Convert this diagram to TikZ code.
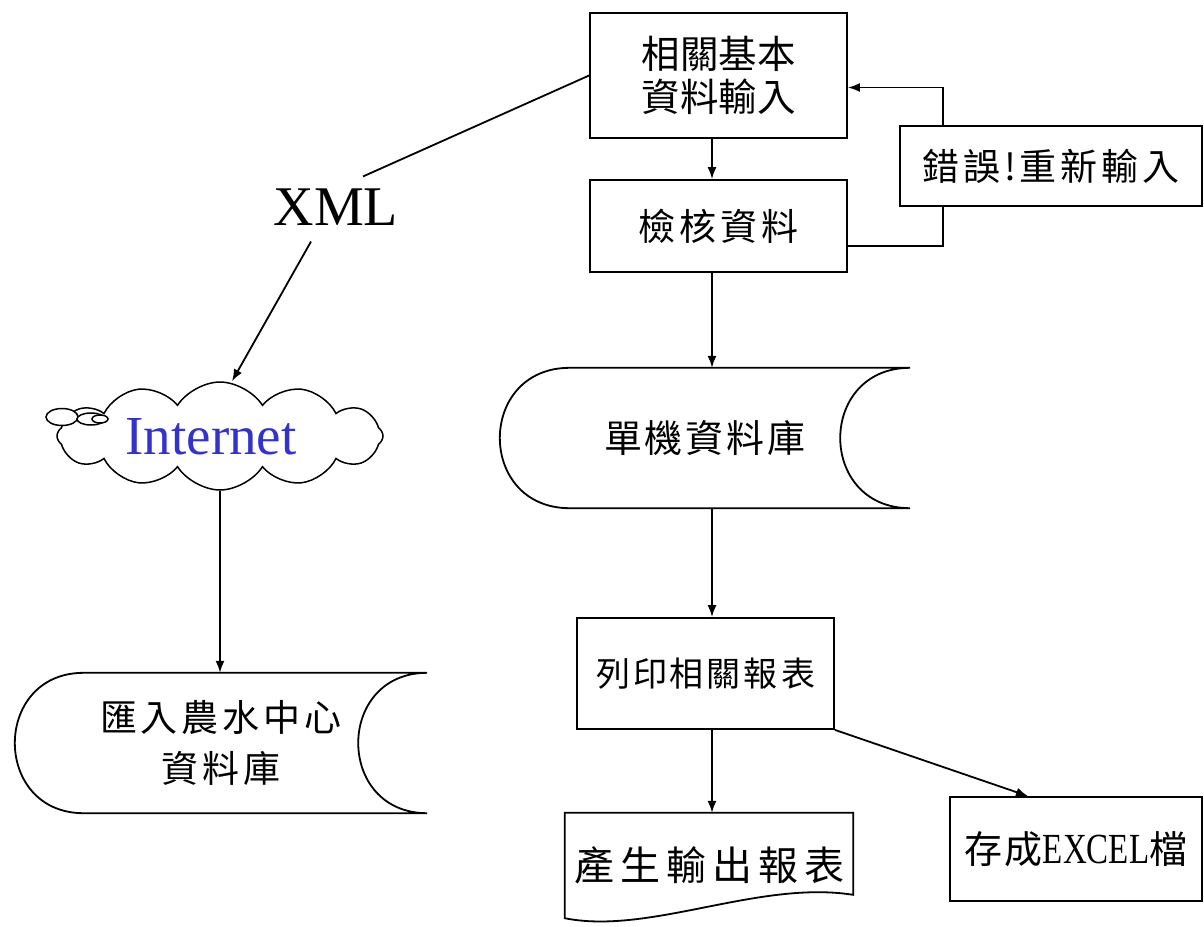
\documentclass[tikz,border=0pt]{standalone}
\usepackage{fontspec}
\usepackage{graphicx}
\setmainfont{Liberation Serif}
\newfontfamily\cjk{Noto Sans CJK TC}
\usetikzlibrary{arrows.meta,shapes.symbols,calc}
\definecolor{netblue}{RGB}{51,51,204}

% set a run of characters with a fixed gap between them
\makeatletter
\newcommand\spreadtext[2]{\def\spr@gap{#1}\spr@first#2\@nil}
\def\spr@first#1{#1\spr@next}
\def\spr@next#1{\ifx\@nil#1\else\hspace{\spr@gap}#1\expandafter\spr@next\fi}
\makeatother

% outline of a "stored data" symbol around a rectangular node
\newcommand\drawstored[2]{%
  \draw[plain] ($(#1.north west)+(#2,0)$) -- (#1.north east)
    .. controls ($(#1.north east)+(-1.333*#2,0)$) and ($(#1.south east)+(-1.333*#2,0)$) .. (#1.south east)
    -- ($(#1.south west)+(#2,0)$)
    .. controls ($(#1.south west)+(-0.333*#2,0)$) and ($(#1.north west)+(-0.333*#2,0)$) .. ($(#1.north west)+(#2,0)$)
    -- cycle;}

\tikzset{
  plain/.style={line width=1.8pt},
  arr/.style={line width=1.8pt,-{Latex[length=12pt,width=9pt]}},
  box/.style={draw,line width=1.8pt,rectangle,align=center,inner sep=0pt},
  shapebox/.style={rectangle,inner sep=0pt,align=center},
  cjkfont/.style={font=\cjk\fontsize{#1}{#1}\selectfont},
}

\begin{document}
\begin{tikzpicture}[x=1pt,y=-1pt]
\useasboundingbox (0,0) rectangle (1204,926);

% main column
\node[box,minimum width=257pt,minimum height=125pt,font=\cjk\fontsize{38.5}{43}\selectfont]
  (A) at (718.5,75.5) {相關基本\\資料輸入};
\node[box,minimum width=257pt,minimum height=92pt,cjkfont=37]
  (B) at (718.5,226) {\spreadtext{4pt}{檢核資料}};
\node[box,minimum width=302pt,minimum height=80pt,cjkfont=37]
  (err) at (1051,166) {\spreadtext{4pt}{錯誤!重新輸入}};
\node[shapebox,minimum width=410pt,minimum height=140pt,cjkfont=38]
  (db1) at (705,438) {\spreadtext{3pt}{單機資料庫}};
\drawstored{db1}{70}
\node[box,minimum width=257pt,minimum height=111pt,cjkfont=34]
  (pr) at (705.5,673.5) {\spreadtext{3pt}{列印相關報表}};
\node[shapebox,minimum width=288pt,minimum height=105pt,cjkfont=40]
  (doc) at (709,865.5) {\spreadtext{6pt}{產生輸出報表}};
\draw[plain] (doc.north west) -- (doc.north east) -- ($(doc.north east)+(0,82)$)
  .. controls ($(doc.north east)+(-95,67)$) and ($(doc.south west)+(85,17)$) .. (doc.south west)
  -- cycle;
\node[box,minimum width=252pt,minimum height=104pt]
  (ex) at (1076,849) {{\cjk\fontsize{38}{40}\selectfont 存\hspace{2pt}成}{\fontsize{33}{40}\selectfont\scalebox{1}[1.3]{EXCEL}}{\cjk\fontsize{38}{40}\selectfont 檔}};

% left branch
\node[inner sep=0pt,font=\fontsize{56}{60}\selectfont] (xml) at (336,207) {XML};
\node[cloud,draw,line width=1.5pt,cloud puffs=12,cloud puff arc=115,aspect=3,
  minimum width=326pt,minimum height=108pt,inner sep=0pt] (net) at (220,436) {};
\draw[line width=1.5pt,fill=white] (62,417) ellipse [x radius=16,y radius=8.5];
\draw[line width=1.5pt,fill=white] (91,419) ellipse [x radius=14,y radius=6];
\draw[line width=1.5pt,fill=white] (100,419) ellipse [x radius=8,y radius=4];
\node[inner sep=0pt,text=netblue,font=\fontsize{55}{60}\selectfont] (inet) at (211,437) {Internet};
\node[shapebox,minimum width=412pt,minimum height=140pt,font=\cjk\fontsize{37}{51}\selectfont]
  (db2) at (221,743) {\spreadtext{4pt}{匯入農水中心}\\\spreadtext{4pt}{資料庫}};
\drawstored{db2}{69}

% connectors
\coordinate (sp) at (712,0);
\coordinate (lp) at (943,0);
\draw[arr] (A.south -| sp) -- (B.north -| sp);
\draw[arr] (B.south -| sp) -- (db1.north -| sp);
\draw[arr] (db1.south -| sp) -- (pr.north -| sp);
\draw[arr] (pr.south -| sp) -- (doc.north -| sp);
\draw[arr] (pr.south east) -- ([xshift=-48pt]ex.north);
\draw[plain] ([yshift=-20pt]B.east) -| (lp |- err.south);
\draw[arr] (lp |- err.north) |- ([yshift=-12pt]A.east);
\draw[plain] (A.west) -- ([shift={(27pt,12pt)}]xml.north);
\draw[arr] ([shift={(-25pt,-16pt)}]xml.south) -- ([xshift=12pt]net.north);
\draw[arr] (net.south) -- (net.south |- db2.north);
\end{tikzpicture}
\end{document}
